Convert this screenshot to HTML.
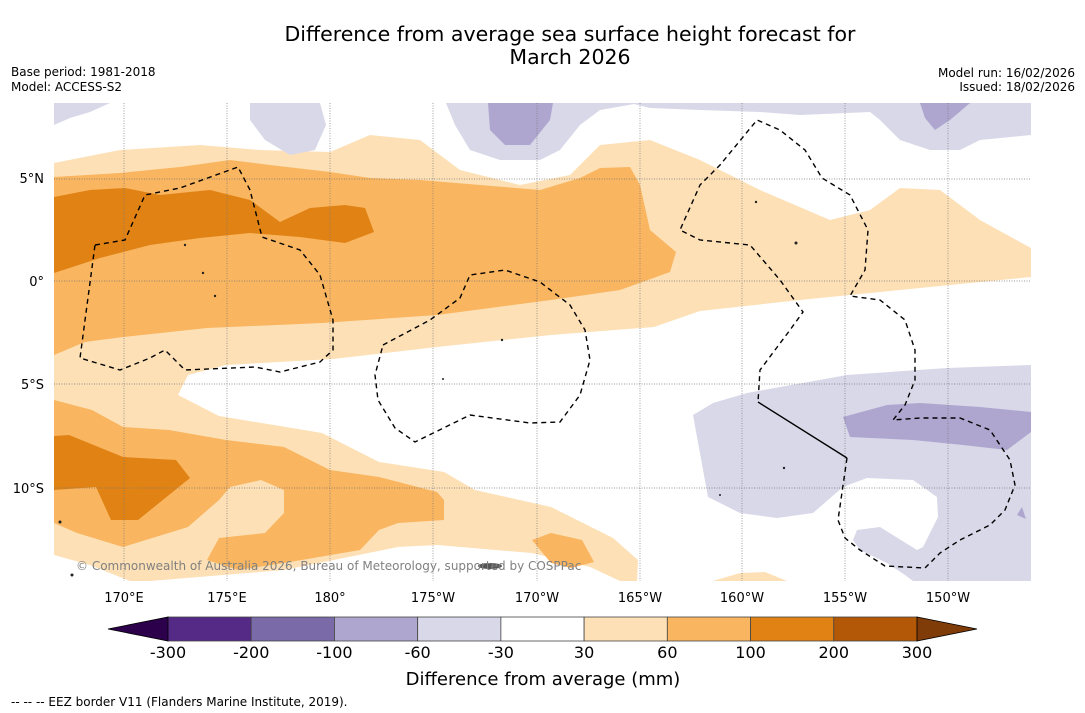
<!DOCTYPE html>
<html><head><meta charset="utf-8"><style>
body{margin:0;background:#fff;font-family:"Liberation Sans","DejaVu Sans",sans-serif}
svg{display:block}
</style></head><body>
<svg width="1085" height="713" viewBox="0 0 1085 713" font-family="'DejaVu Sans','Liberation Sans',sans-serif">
<rect width="1085" height="713" fill="#fff"/>
<text x="570" y="41" font-size="20.5" text-anchor="middle">Difference from average sea surface height forecast for</text>
<text x="570" y="64" font-size="20.5" text-anchor="middle">March 2026</text>
<text x="11" y="76" font-size="12">Base period: 1981-2018</text>
<text x="11" y="91" font-size="12">Model: ACCESS-S2</text>
<text x="1075" y="77" font-size="12" text-anchor="end">Model run: 16/02/2026</text>
<text x="1075" y="91" font-size="12" text-anchor="end">Issued: 18/02/2026</text>

<defs><clipPath id="mc"><rect x="54" y="103" width="977" height="478"/></clipPath></defs>
<g clip-path="url(#mc)">
<rect x="54" y="103" width="977" height="478" fill="#fff"/>
<path fill="#fde0b6" d="M54,163 L120,150 L200,145 L260,150 L330,152 L370,135 L420,140 L460,170 L520,185 L570,175 L600,145 L650,140 L700,160 L760,190 L830,220 L870,210 L900,188 L940,190 L980,220 L1031,248 L1031,277 L900,290 L800,300 L700,311 L654,327 L551,335 L437,347 L333,359 L226,365 L188,375 L178,395 L219,416 L322,433 L379,462 L444,472 L475,490 L551,507 L613,538 L638,560 L637,581 L620,581 L590,567 L532,553 L437,545 L398,547 L284,570 L150,581 L130,581 L90,565 L54,555 Z"/>
<path fill="#fde0b6" d="M713,581 L740,573 L765,572 L787,581 Z"/>
<path fill="#f9b55f" d="M54,355 L85,342 L123,337 L207,328 L322,323 L437,315 L551,300 L620,290 L670,272 L676,252 L650,230 L640,185 L630,167 L600,168 L580,178 L540,190 L480,185 L420,180 L370,178 L330,172 L270,165 L230,160 L180,167 L120,173 L54,177 Z"/>
<path fill="#f9b55f" d="M54,400 L92,410 L123,427 L169,430 L226,440 L284,447 L330,470 L379,477 L437,492 L444,500 L444,520 L398,523 L379,530 L360,550 L284,563 L238,570 L207,560 L219,538 L265,533 L284,513 L284,490 L261,480 L230,487 L219,500 L188,527 L123,547 L77,533 L54,523 Z"/>
<path fill="#f9b55f" d="M532,540 L551,533 L582,540 L594,562 L571,568 L551,563 Z"/>
<path fill="#e08214" d="M54,197 L90,190 L125,188 L160,195 L210,190 L250,200 L280,222 L310,208 L345,205 L365,208 L374,232 L345,243 L300,237 L250,233 L200,238 L150,245 L100,258 L54,273 Z"/>
<path fill="#e08214" d="M54,436 L69,435 L123,457 L176,460 L190,478 L138,520 L111,520 L96,487 L54,490 Z"/>
<g fill="#d8d8e9">
<path d="M54,103 L110,103 L90,112 L70,118 L54,125 Z"/>
<path d="M250,103 L320,103 L326,125 L315,150 L290,155 L265,140 L250,120 Z"/>
<path d="M446,103 L640,103 L600,110 L580,125 L560,150 L540,160 L500,160 L470,150 L455,125 Z"/>
<path d="M630,103 L1031,103 L1031,135 L980,140 L960,150 L930,150 L900,140 L880,120 L870,112 L800,115 L760,112 L700,110 L650,108 Z"/>
<path d="M1031,365 L947,368 L847,375 L747,393 L713,403 L693,415 L697,437 L708,497 L740,513 L777,518 L813,513 L843,487 L867,478 L913,480 L937,497 L938,517 L923,547 L917,550 L880,527 L857,530 L853,540 L860,550 L887,563 L905,575 L913,581 L1031,581 Z"/>
</g>
<g fill="#aea6cf">
<path d="M488,103 L553,103 L550,120 L530,145 L505,145 L490,130 Z"/>
<path d="M920,103 L970,103 L950,120 L935,130 L925,118 Z"/>
<path d="M843,417 L887,405 L920,403 L980,407 L1031,412 L1031,432 L1007,450 L963,445 L913,440 L850,437 Z"/>
<path d="M1017,515 L1022,507 L1026,519 Z"/>
</g>
<g stroke="#777" stroke-width="0.7" stroke-dasharray="1,1.5">
<line x1="124" y1="103" x2="124" y2="581"/><line x1="227" y1="103" x2="227" y2="581"/><line x1="330" y1="103" x2="330" y2="581"/><line x1="433" y1="103" x2="433" y2="581"/><line x1="537" y1="103" x2="537" y2="581"/><line x1="640" y1="103" x2="640" y2="581"/><line x1="742" y1="103" x2="742" y2="581"/><line x1="845" y1="103" x2="845" y2="581"/><line x1="948" y1="103" x2="948" y2="581"/>
<line x1="54" y1="179" x2="1031" y2="179"/><line x1="54" y1="281" x2="1031" y2="281"/><line x1="54" y1="384" x2="1031" y2="384"/><line x1="54" y1="488" x2="1031" y2="488"/>
</g>
<g fill="none" stroke="#000" stroke-width="1.4" stroke-dasharray="5,4">
<path d="M95,245 L125,240 L145,195 L180,188 L238,167 L250,190 L262,237 L300,250 L320,275 L333,320 L333,350 L320,362 L280,372 L255,367 L185,370 L165,350 L150,358 L120,370 L80,358 Z"/>
<path d="M383,345 L430,320 L460,298 L470,275 L505,270 L540,282 L570,305 L585,330 L590,360 L580,395 L560,422 L530,423 L470,415 L415,442 L395,428 L378,400 L375,375 Z"/>
<path d="M847,458 L838,520 L845,538 L860,550 L885,566 L925,568 L940,553 L960,540 L990,525 L1005,510 L1015,485 L1010,460 L990,430 L960,418 L920,418 L893,420 L905,405 L915,380 L915,350 L905,320 L880,300 L850,296 L865,270 L868,230 L850,195 L822,178 L805,150 L780,130 L757,120 L720,165 L700,185 L680,230 L700,240 L750,245 L780,280 L803,312 L790,330 L775,350 L760,370 L758,402"/>
</g>
<path d="M758,402 L847,458" stroke="#000" stroke-width="1.4" fill="none"/>
<g fill="#222">
<ellipse cx="490" cy="566" rx="12" ry="3" fill="#555"/><circle cx="185" cy="245" r="1.2"/><circle cx="203" cy="273" r="1.2"/><circle cx="215" cy="296" r="1.2"/><circle cx="796" cy="243" r="1.5"/><circle cx="756" cy="202" r="1.2"/><circle cx="443" cy="379" r="1"/><circle cx="502" cy="340" r="1.2"/><circle cx="60" cy="522" r="1.5"/><circle cx="72" cy="575" r="1.5"/><circle cx="784" cy="468" r="1.2"/><circle cx="720" cy="495" r="1"/>
</g>
<text x="76" y="570" font-size="12" fill="#808080">© Commonwealth of Australia 2026, Bureau of Meteorology, supported by COSPPac</text>
</g>

<g font-size="13" text-anchor="middle">
<text x="124" y="602">170°E</text><text x="227" y="602">175°E</text><text x="330" y="602">180°</text><text x="433" y="602">175°W</text><text x="537" y="602">170°W</text><text x="640" y="602">165°W</text><text x="742" y="602">160°W</text><text x="845" y="602">155°W</text><text x="948" y="602">150°W</text>
</g>
<g font-size="13" text-anchor="end">
<text x="44" y="183">5°N</text><text x="44" y="286">0°</text><text x="44" y="389">5°S</text><text x="44" y="493">10°S</text>
</g>

<g id="cbar"></g>
<text x="543" y="685" font-size="18" text-anchor="middle">Difference from average (mm)</text>
<text x="11" y="706" font-size="12">-- -- -- EEZ border V11 (Flanders Marine Institute, 2019).</text>
</svg>
<script>
const levels = [-300,-200,-100,-60,-30,30,60,100,200,300];
const colors = ['#552a86','#7b6aa8','#aea6cf','#d8d8e9','#ffffff','#fde0b6','#f9b55f','#e08214','#b35806'];
const extColors = ['#2d004b','#7f3b08'];
const ns='http://www.w3.org/2000/svg';
const g=document.getElementById('cbar');
const x0=168,x1=917,y0=617,y1=641;
const w=(x1-x0)/(levels.length-1);
function xpos(i){return x0+i*w;}
for(let i=0;i<colors.length;i++){
  const r=document.createElementNS(ns,'rect');
  r.setAttribute('x',xpos(i));r.setAttribute('y',y0);r.setAttribute('width',w);r.setAttribute('height',y1-y0);
  r.setAttribute('fill',colors[i]);r.setAttribute('stroke','#444');r.setAttribute('stroke-width','0.8');
  
  
  g.appendChild(r);
}
const tl=document.createElementNS(ns,'polygon');
tl.setAttribute('points',`${x0},${y0} ${x0},${y1} 108,629`);tl.setAttribute('fill',extColors[0]);tl.setAttribute('stroke','#000');tl.setAttribute('stroke-width','0.8');


g.appendChild(tl);
const tr=document.createElementNS(ns,'polygon');
tr.setAttribute('points',`${x1},${y0} ${x1},${y1} 977,629`);tr.setAttribute('fill',extColors[1]);tr.setAttribute('stroke','#000');tr.setAttribute('stroke-width','0.8');


g.appendChild(tr);
for(let i=0;i<levels.length;i++){
  const t=document.createElementNS(ns,'text');
  t.setAttribute('x',xpos(i));t.setAttribute('y',658);t.setAttribute('font-size','16');t.setAttribute('text-anchor','middle');
  t.textContent=levels[i];
  
  
  g.appendChild(t);
}
</script>
</body></html>
